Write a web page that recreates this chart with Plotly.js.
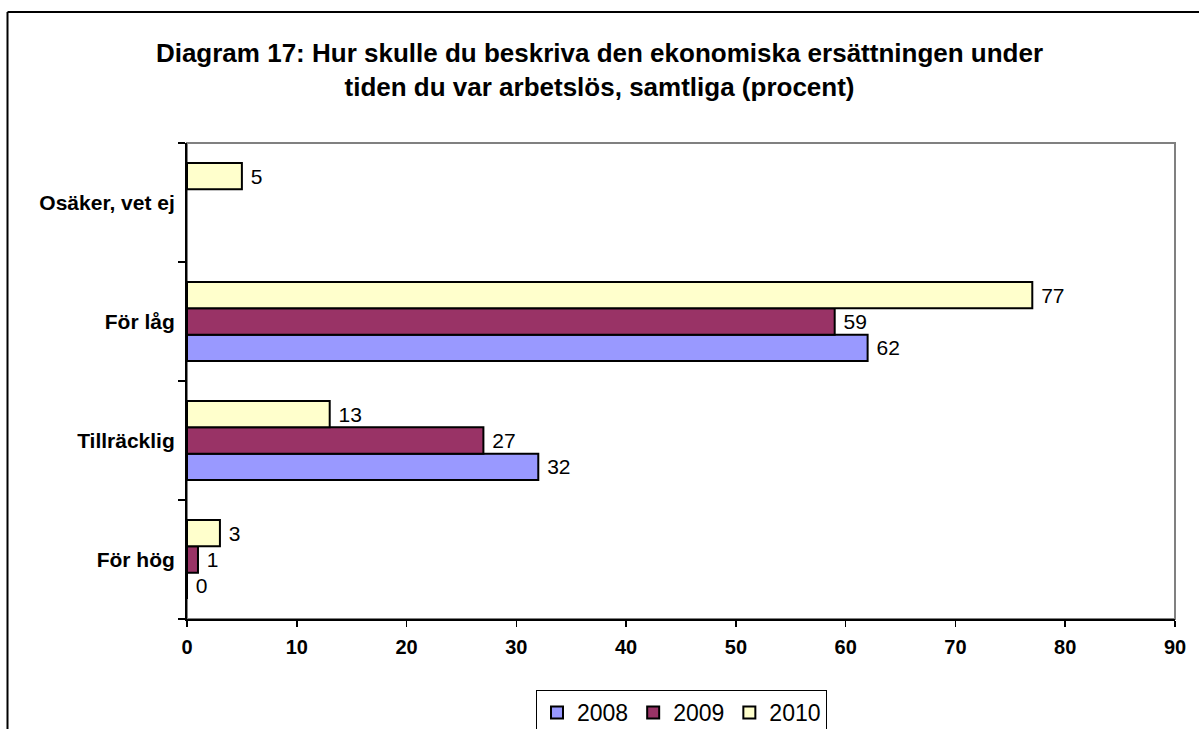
<!DOCTYPE html>
<html>
<head>
<meta charset="utf-8">
<script src="https://cdn.plot.ly/plotly-3.0.1.min.js"></script>
<style>
html,body{margin:0;padding:0;background:#fff;overflow:hidden;}
#chart{width:1199px;height:729px;}
</style>
</head>
<body>
<div id="chart"></div>
<script>
// Data (categories listed bottom to top)
const categories = ["För hög", "Tillräcklig", "För låg", "Osäker, vet ej"];
const values2008 = [0, 32, 62, null];
const values2009 = [1, 27, 59, null];
const values2010 = [3, 13, 77, 5];
const seriesNames = ["2008", "2009", "2010"];
const xTicks = [0, 10, 20, 30, 40, 50, 60, 70, 80, 90];

const colors = ["#9999FF", "#993366", "#FFFFCC"];
const allValues = [values2008, values2009, values2010];
const fontFam = "Liberation Sans, Arial, sans-serif";

const traces = allValues.map((vals, i) => ({
  type: "bar",
  orientation: "h",
  name: seriesNames[i],
  y: categories,
  x: vals,
  text: vals.map(v => v === null ? "" : "\u00A0" + v),
  textposition: "outside",
  textfont: {family: fontFam, size: 21, color: "#000"},
  cliponaxis: false,
  marker: {color: colors[i], line: {color: "#000", width: 2}},
  hoverinfo: "x+name"
}));

const layout = {
  width: 1199,
  height: 729,
  paper_bgcolor: "#fff",
  plot_bgcolor: "#fff",
  margin: {l: 187, r: 24, t: 143, b: 110, pad: 0, autoexpand: false},
  barmode: "group",
  bargap: 0.336,
  bargroupgap: 0,
  font: {family: fontFam, color: "#000"},
  title: {
    text: "<b>Diagram 17: Hur skulle du beskriva den ekonomiska ersättningen under<br>tiden du var arbetslös, samtliga (procent)</b>",
    font: {family: fontFam, size: 26, color: "#000"},
    x: 0.5, xref: "container", xanchor: "center",
    y: 1 - 62/729, yref: "container", yanchor: "top"
  },
  xaxis: {
    range: [0, 90],
    tickvals: xTicks,
    ticktext: xTicks.map(t => "<b>" + t + "</b>"),
    ticks: "outside",
    ticklen: 6,
    tickcolor: "#000",
    tickwidth: 1.5,
    showline: true,
    linecolor: "#000",
    linewidth: 2,
    showgrid: false,
    zeroline: false,
    ticklabelstandoff: 3,
    tickfont: {family: fontFam, size: 20, color: "#000"},
    fixedrange: true
  },
  yaxis: {
    type: "category",
    categoryorder: "array",
    categoryarray: categories,
    tickvals: categories,
    ticktext: categories.map(c => "<b>" + c + "</b>"),
    tickson: "boundaries",
    ticks: "outside",
    ticklen: 7,
    tickcolor: "#000",
    tickwidth: 1.5,
    showline: true,
    linecolor: "#000",
    linewidth: 2,
    showgrid: false,
    zeroline: false,
    ticklabelstandoff: 6,
    tickfont: {family: fontFam, size: 21, color: "#000"},
    fixedrange: true
  },
  legend: {
    orientation: "h",
    x: (536 - 187) / 988,
    xanchor: "left",
    y: (619 - 690) / 476,
    yanchor: "top",
    traceorder: "normal",
    bordercolor: "#000",
    borderwidth: 1,
    bgcolor: "#fff",
    font: {family: fontFam, size: 23, color: "#000"},
    itemwidth: 30
  },
  shapes: [
    {type: "rect", xref: "paper", yref: "paper", x0: 0, x1: 1, y0: 0, y1: 1,
     line: {color: "#808080", width: 2}, layer: "below"},
    {type: "line", xref: "paper", yref: "paper", x0: (7.5 - 187) / 988, x1: (7.5 - 187) / 988,
     y0: (619 - 12) / 476, y1: -0.5, line: {color: "#000", width: 2}},
    {type: "line", xref: "paper", yref: "paper", x0: (7.5 - 187) / 988, x1: 1.2,
     y0: (619 - 12) / 476, y1: (619 - 12) / 476, line: {color: "#000", width: 2}}
  ],
  showlegend: true
};

Plotly.newPlot("chart", traces, layout, {displayModeBar: false, staticPlot: true});
</script>
</body>
</html>
